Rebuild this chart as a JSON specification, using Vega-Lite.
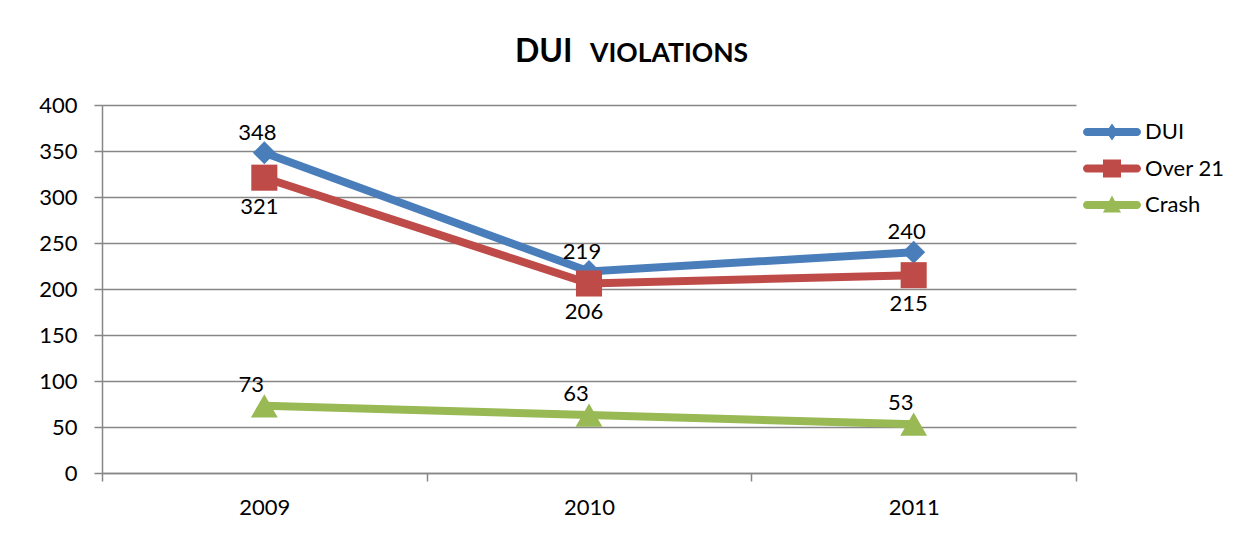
{
  "$schema": "https://vega.github.io/schema/vega-lite/v6.json",
  "width": 974,
  "height": 368,
  "autosize": {"type": "none"},
  "padding": {"left": 102, "top": 105, "right": 181, "bottom": 83},
  "background": "white",
  "config": {"font": "Lato", "view": {"stroke": null}},
  "title": {
    "text": "DUI",
    "subtitle": "VIOLATIONS",
    "frame": "group",
    "anchor": "middle",
    "align": "left",
    "dx": -74,
    "offset": 25,
    "font": "Lato",
    "fontSize": 32,
    "fontWeight": "bold",
    "color": "black",
    "subtitleFont": "Lato",
    "subtitleFontSize": 26.5,
    "subtitleFontWeight": "bold",
    "subtitleColor": "black",
    "subtitlePadding": -28,
    "encode": {"subtitle": {"update": {"dx": {"value": 1}}}}
  },
  "data": {
    "values": [
      {"year": "2009", "series": "DUI", "value": 348},
      {"year": "2010", "series": "DUI", "value": 219},
      {"year": "2011", "series": "DUI", "value": 240},
      {"year": "2009", "series": "Over 21", "value": 321},
      {"year": "2010", "series": "Over 21", "value": 206},
      {"year": "2011", "series": "Over 21", "value": 215},
      {"year": "2009", "series": "Crash", "value": 73},
      {"year": "2010", "series": "Crash", "value": 63},
      {"year": "2011", "series": "Crash", "value": 53}
    ]
  },
  "encoding": {
    "x": {
      "field": "year",
      "type": "ordinal",
      "scale": {"type": "band", "paddingInner": 0, "paddingOuter": 0},
      "axis": {
        "title": null,
        "tickBand": "extent",
        "labelAngle": 0,
        "labelFontSize": 22,
        "labelColor": "black",
        "labelPadding": 16,
        "tickSize": 8,
        "tickColor": "#878787",
        "tickWidth": 1.5,
        "domainColor": "#878787",
        "domainWidth": 1.5,
        "grid": false
      }
    },
    "y": {
      "field": "value",
      "type": "quantitative",
      "scale": {"domain": [0, 400]},
      "axis": {
        "title": null,
        "values": [0, 50, 100, 150, 200, 250, 300, 350, 400],
        "labelFontSize": 22,
        "labelColor": "black",
        "labelPadding": 17,
        "tickSize": 8,
        "tickColor": "#878787",
        "tickWidth": 1.5,
        "domainColor": "#878787",
        "domainWidth": 1.5,
        "gridColor": "#878787",
        "gridWidth": 1.5
      }
    },
    "color": {
      "field": "series",
      "type": "nominal",
      "scale": {"domain": ["DUI", "Over 21", "Crash"], "range": ["#4A7EBB", "#BE4B48", "#98B954"]},
      "legend": {
        "title": null,
        "orient": "right",
        "offset": 9,
        "padding": 16,
        "symbolSize": 400,
        "labelFont": "Lato",
        "labelFontSize": 22,
        "labelColor": "black",
        "labelOffset": 22,
        "rowPadding": 14.5,
        "encode": {
          "symbols": {
            "update": {
              "shape": {"signal": "datum.value === 'DUI' ? 'M-2.5,-0.4L2.5,-0.4A0.4,0.4 0 0 1 2.5,0.4L-2.5,0.4A0.4,0.4 0 0 1 -2.5,-0.4Z M0,-0.85L0.6,0L0,0.85L-0.6,0Z' : datum.value === 'Over 21' ? 'M-2.5,-0.4L2.5,-0.4A0.4,0.4 0 0 1 2.5,0.4L-2.5,0.4A0.4,0.4 0 0 1 -2.5,-0.4Z M-0.9,-0.9L0.9,-0.9L0.9,0.9L-0.9,0.9Z' : 'M-2.5,-0.4L2.5,-0.4A0.4,0.4 0 0 1 2.5,0.4L-2.5,0.4A0.4,0.4 0 0 1 -2.5,-0.4Z M0,-0.95L0.9,0.75L-0.9,0.75Z'"},
              "fill": {"scale": "color", "field": "value"},
              "stroke": {"value": "transparent"},
              "strokeWidth": {"value": 0},
              "size": {"value": 400},
              "opacity": {"value": 1}
            }
          }
        }
      }
    }
  },
  "layer": [
    {
      "mark": {"type": "line", "strokeWidth": 8}
    },
    {
      "transform": [{"filter": "datum.series === 'DUI'"}],
      "mark": {"type": "point", "filled": true, "opacity": 1, "shape": "diamond", "size": 530}
    },
    {
      "transform": [{"filter": "datum.series === 'Over 21'"}],
      "mark": {"type": "point", "filled": true, "opacity": 1, "shape": "square", "size": 680}
    },
    {
      "transform": [{"filter": "datum.series === 'Crash'"}],
      "mark": {"type": "point", "filled": true, "opacity": 1, "shape": "triangle-up", "size": 720}
    },
    {
      "transform": [{"filter": "datum.series === 'DUI'"}],
      "mark": {"type": "text", "fontSize": 22, "dx": -7, "dy": -20, "align": "center", "baseline": "middle"},
      "encoding": {"text": {"field": "value", "type": "quantitative"}, "color": {"value": "black"}}
    },
    {
      "transform": [{"filter": "datum.series === 'Over 21'"}],
      "mark": {"type": "text", "fontSize": 22, "dx": -5, "dy": 29, "align": "center", "baseline": "middle"},
      "encoding": {"text": {"field": "value", "type": "quantitative"}, "color": {"value": "black"}}
    },
    {
      "transform": [{"filter": "datum.series === 'Crash'"}],
      "mark": {"type": "text", "fontSize": 22, "dx": -13, "dy": -21, "align": "center", "baseline": "middle"},
      "encoding": {"text": {"field": "value", "type": "quantitative"}, "color": {"value": "black"}}
    }
  ]
}
